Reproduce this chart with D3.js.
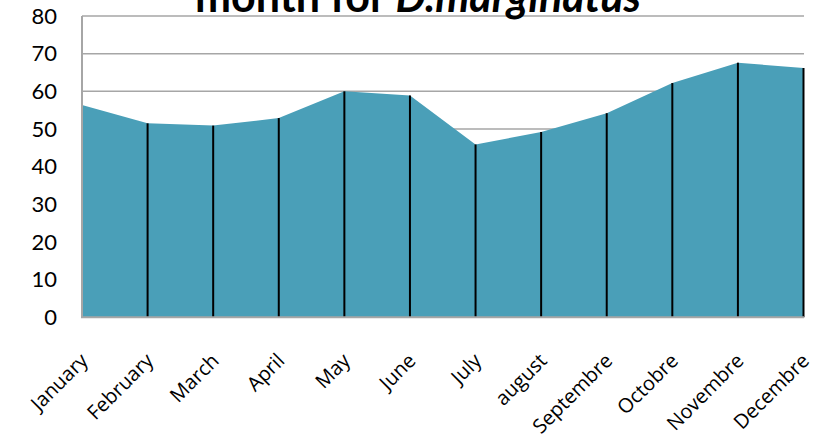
<!DOCTYPE html>
<html><head><meta charset="utf-8">
<script src="https://cdn.jsdelivr.net/npm/d3@7"></script>
<style>body{margin:0;background:#fff}svg{display:block}</style>
</head><body>
<script>
const months = ["January","February","March","April","May","June","July","august","Septembre","Octobre","Novembre","Decembre"];
const values = [56.4,51.5,50.9,52.9,60.0,58.9,45.9,49.2,54.2,62.2,67.6,66.2];
const yTicks = [0,10,20,30,40,50,60,70,80];
const titlePlain = "month for ";
const titleItalic = "D.marginatus";

const W=823,H=445;
const svg=d3.select("body").append("svg").attr("width",W).attr("height",H);
const x=d3.scalePoint().domain(months).range([82,803.5]).padding(0);
const y=d3.scaleLinear().domain([0,80]).range([317.3,16]);
const font="Lato, 'Open Sans', sans-serif";
const font2="'Open Sans', sans-serif";

// gridlines
svg.append("g").selectAll("line").data(yTicks.filter(d=>d>0)).join("line")
 .attr("x1",82).attr("x2",804).attr("y1",d=>y(d)).attr("y2",d=>y(d))
 .attr("stroke","#a6a6a6").attr("stroke-width",1.5);

// area
const data=months.map((mo,i)=>({m:mo,v:values[i]}));
svg.append("path").datum(data)
 .attr("d",d3.area().x(d=>x(d.m)).y0(y(0)).y1(d=>y(d.v)))
 .attr("fill","#4a9fb8");

// drop lines
svg.append("g").selectAll("line").data(data.slice(1)).join("line")
 .attr("x1",d=>x(d.m)).attr("x2",d=>x(d.m)).attr("y1",d=>y(d.v)).attr("y2",y(0))
 .attr("stroke","#000").attr("stroke-width",2);

// axes lines
svg.append("line").attr("x1",82).attr("x2",82).attr("y1",y(80)).attr("y2",y(0)).attr("stroke","#a6a6a6").attr("stroke-width",2);
svg.append("line").attr("x1",81).attr("x2",804).attr("y1",y(0)).attr("y2",y(0)).attr("stroke","#a6a6a6").attr("stroke-width",2);

// y tick labels
svg.append("g").selectAll("text").data(yTicks).join("text")
 .attr("x",57).attr("y",d=>y(d)).attr("dy","0.35em").attr("text-anchor","end")
 .attr("font-family",font).attr("font-size",22).attr("fill","#000").text(d=>d);

// x labels
svg.append("g").selectAll("text").data(months).join("text")
 .attr("transform",d=>`translate(${x(d)+7},${362}) rotate(-45)`)
 .attr("text-anchor","end").attr("font-family",font2).attr("font-size",20).attr("fill","#000").text(d=>d);

// title
const t=svg.append("text").attr("x",418).attr("y",12).attr("text-anchor","middle")
 .attr("font-family",font).attr("font-weight","bold").attr("font-size",43).attr("fill","#000");
t.append("tspan").text(titlePlain);
t.append("tspan").attr("font-style","italic").text(titleItalic);
</script>
</body></html>
